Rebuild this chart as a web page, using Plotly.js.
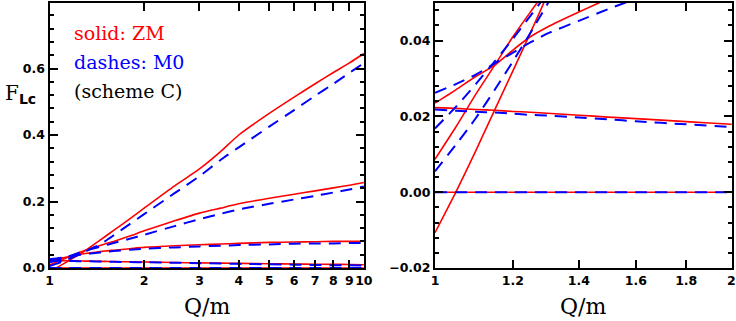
<!DOCTYPE html>
<html>
<head>
<meta charset="utf-8">
<script src="https://cdn.plot.ly/plotly-3.0.1.min.js"></script>
<style>
  html, body { margin: 0; padding: 0; background: #fff; }
  #chart { width: 736px; height: 321px; }
</style>
</head>
<body>
<div id="chart"></div>
<script>
  // Q/m sample points shared by both panels (right panel just clips at 2)
  const qVals = [1, 1.05, 1.1, 1.15, 1.2, 1.25, 1.3, 1.4, 1.5, 1.6, 1.8, 2, 2.5, 3, 3.5, 4, 5, 6, 7, 8, 9, 10];

  // ZM (solid red)
  const zmTop  = [-0.0107, 0.0, 0.0109, 0.0217, 0.032, 0.042, 0.052, 0.074, 0.094, 0.113, 0.148, 0.18, 0.247, 0.298, 0.35, 0.40, 0.465, 0.514, 0.554, 0.588, 0.617, 0.645];
  const zmMid  = [0.0087, 0.0172, 0.0258, 0.0335, 0.041, 0.0475, 0.0535, 0.063, 0.072, 0.08, 0.096, 0.112, 0.142, 0.165, 0.18, 0.193, 0.21, 0.222, 0.232, 0.241, 0.249, 0.257];
  const zmLow  = [0.0235, 0.027, 0.0305, 0.0335, 0.0375, 0.041, 0.0435, 0.0475, 0.051, 0.0535, 0.058, 0.062, 0.067, 0.07, 0.072, 0.074, 0.077, 0.078, 0.079, 0.08, 0.08, 0.081];
  const zmFlat = [0.0223, 0.0221, 0.0218, 0.0216, 0.0213, 0.0211, 0.0208, 0.0203, 0.0198, 0.0194, 0.0186, 0.0179, 0.0165, 0.0155, 0.0147, 0.014, 0.013, 0.012, 0.0115, 0.011, 0.0105, 0.010];
  const zmZero = [0, 0, 0, 0, 0, 0, 0, 0, 0, 0, 0, 0, 0, 0, 0, 0, 0, 0, 0, 0, 0, 0];

  // M0 (dashed blue)
  const m0Top  = [0.0055, 0.0125, 0.0195, 0.027, 0.0345, 0.042, 0.0495, 0.064, 0.080, 0.098, 0.132, 0.162, 0.225, 0.276, 0.325, 0.363, 0.425, 0.475, 0.518, 0.554, 0.587, 0.616];
  const m0Mid  = [0.0168, 0.0225, 0.0285, 0.0345, 0.0405, 0.0465, 0.0522, 0.06, 0.068, 0.075, 0.088, 0.1, 0.126, 0.147, 0.163, 0.176, 0.193, 0.206, 0.217, 0.227, 0.236, 0.245];
  const m0Low  = [0.0262, 0.0285, 0.031, 0.034, 0.0368, 0.0395, 0.0418, 0.0452, 0.0483, 0.051, 0.055, 0.058, 0.062, 0.065, 0.067, 0.069, 0.071, 0.073, 0.074, 0.074, 0.075, 0.075];
  const m0Flat = [0.0218, 0.0215, 0.0212, 0.021, 0.0207, 0.0204, 0.0202, 0.0197, 0.0192, 0.0187, 0.0179, 0.0172, 0.0158, 0.0145, 0.0135, 0.0125, 0.011, 0.01, 0.009, 0.0085, 0.008, 0.0075];
  const m0Zero = [0, 0, 0, 0, 0, 0, 0, 0, 0, 0, 0, 0, 0, 0, 0, 0, 0, 0, 0, 0, 0, 0];

  // axis ticks
  const leftXTicks = [1, 2, 3, 4, 5, 6, 7, 8, 9, 10];
  const rightXTicks = [1, 1.2, 1.4, 1.6, 1.8, 2];

  const RED = '#ff0000';
  const BLUE = '#0000ff';

  const zmSeries = [zmTop, zmMid, zmLow, zmFlat, zmZero];
  const m0Series = [m0Top, m0Mid, m0Low, m0Flat, m0Zero];

  const traces = [];
  [['x', 'y'], ['x2', 'y2']].forEach(function (ax) {
    zmSeries.forEach(function (ys) {
      traces.push({
        x: qVals, y: ys, xaxis: ax[0], yaxis: ax[1],
        type: 'scatter', mode: 'lines', showlegend: false,
        line: { color: RED, width: 1.6, shape: 'spline', smoothing: 0.6 }
      });
    });
  });
  [['x', 'y'], ['x2', 'y2']].forEach(function (ax) {
    m0Series.forEach(function (ys) {
      traces.push({
        x: qVals, y: ys, xaxis: ax[0], yaxis: ax[1],
        type: 'scatter', mode: 'lines', showlegend: false,
        line: { color: BLUE, width: 2, dash: '12px,8px', shape: 'spline', smoothing: 0.6 }
      });
    });
  });

  const tickFont = { family: 'DejaVu Sans', size: 12.5, weight: 'bold', color: '#000' };
  const serif = 'DejaVu Serif';

  function axisBase() {
    return {
      showline: true, linecolor: '#000', linewidth: 2,
      mirror: 'ticks', ticks: 'inside', ticklen: 8, tickwidth: 1.5, tickcolor: '#000',
      showgrid: false, zeroline: false, tickfont: tickFont, tickangle: 0
    };
  }

  function note(text, px, py, size, color, anchor) {
    return {
      text: text, xref: 'paper', yref: 'paper', x: px / 736, y: (268 - py) / 265,
      xanchor: anchor, yanchor: 'middle', showarrow: false,
      font: { family: serif, size: size, color: color }
    };
  }

  const layout = {
    width: 736, height: 321,
    margin: { l: 0, r: 0, t: 3, b: 53 },
    paper_bgcolor: '#fff', plot_bgcolor: '#fff',
    showlegend: false,
    xaxis: Object.assign(axisBase(), {
      domain: [49.5 / 736, 364 / 736], type: 'log', range: [0, 1.0005],
      tickmode: 'array', tickvals: leftXTicks, anchor: 'y'
    }),
    yaxis: Object.assign(axisBase(), {
      domain: [0, 1], range: [0, 0.797], dtick: 0.2, tickformat: '.1f', anchor: 'x',
      minor: { dtick: 0.04, ticks: 'inside', ticklen: 4 }
    }),
    xaxis2: Object.assign(axisBase(), {
      domain: [435 / 736, 731.7 / 736], type: 'log', range: [0, 0.3015],
      tickmode: 'array', tickvals: rightXTicks, anchor: 'y2'
    }),
    yaxis2: Object.assign(axisBase(), {
      domain: [0, 1], range: [-0.02, 0.0499], dtick: 0.02, tickformat: '.2f', anchor: 'x2',
      minor: { dtick: 0.004, ticks: 'inside', ticklen: 4 }
    }),
    annotations: [
      note('Q/m', 206.7, 306, 22, '#000', 'center'),
      note('Q/m', 583.3, 306, 22, '#000', 'center'),
      note('F<sub><b><span style="font-family:DejaVu Sans">Lc</span></b></sub>', 3, 94, 20, '#000', 'left'),
      note('solid: ZM', 72, 33, 19, RED, 'left'),
      note('dashes: M0', 72, 62, 19, BLUE, 'left'),
      note('(scheme C)', 72, 91, 19, '#000', 'left')
    ]
  };

  Plotly.newPlot('chart', traces, layout, { displayModeBar: false });
</script>
</body>
</html>
